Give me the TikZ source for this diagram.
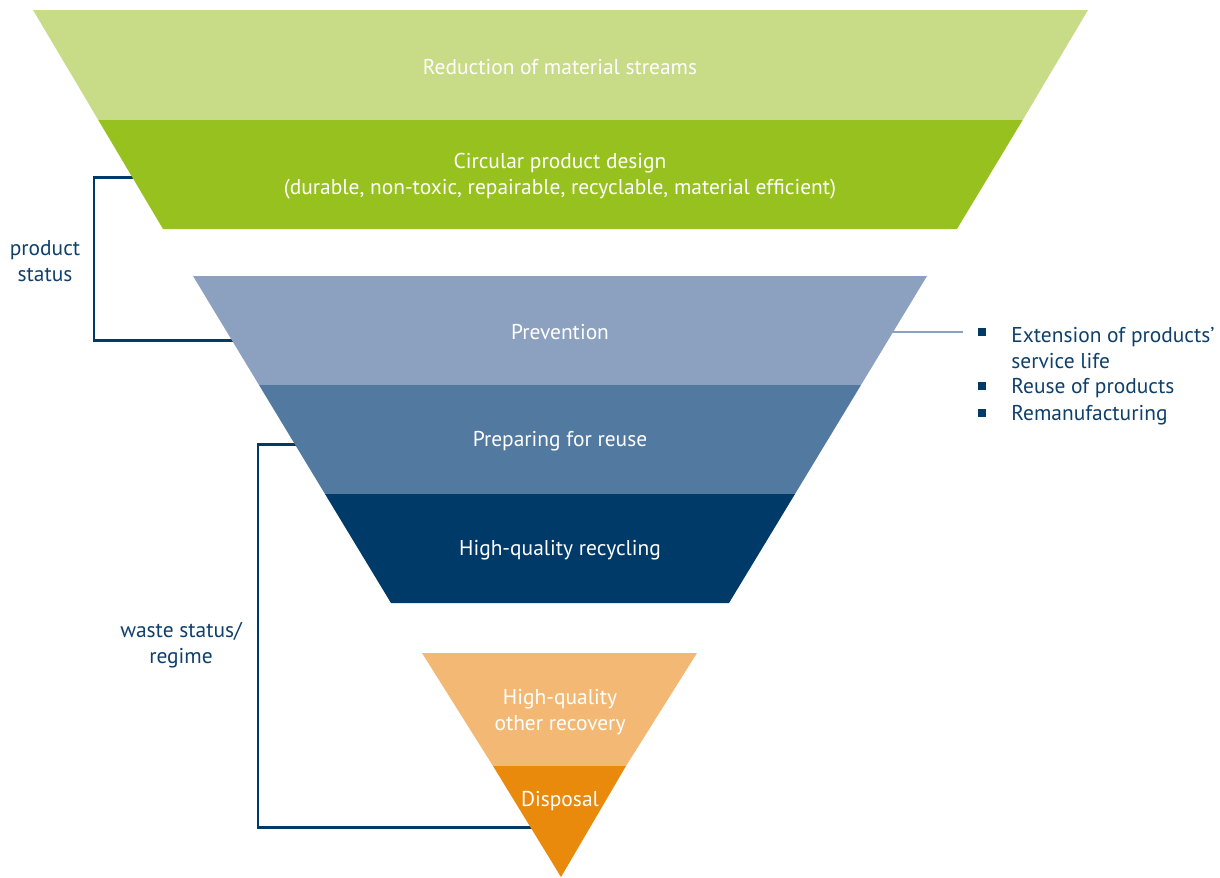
\documentclass[tikz,border=0pt]{standalone}
\usepackage{fontspec}
\setmainfont{PT Sans}
\usetikzlibrary{
	positioning
}
\definecolor{reduceGreen}{HTML}{C8DB86}
\definecolor{designGreen}{HTML}{97C11F}
\definecolor{preventBlue}{HTML}{8BA1BF}
\definecolor{reuseBlue}{HTML}{52799F}
\definecolor{recycleBlue}{HTML}{003A69}
\definecolor{recoverOrange}{HTML}{F3B874}
\definecolor{disposeOrange}{HTML}{EA8A0C}
\definecolor{labelBlue}{HTML}{0F3F6B}

\begin{document}
\begin{tikzpicture}[x=0.02cm,y=-0.02cm,
		band/.style={text=white,font=\fontsize{12.2}{15}\selectfont,align=center},
		side/.style={text=labelBlue,font=\fontsize{12.2}{15}\selectfont,align=center},
		item/.style={text=labelBlue,font=\fontsize{12.2}{15}\selectfont,align=left,anchor=west,inner sep=0pt},
		bullet/.style={fill=recycleBlue,minimum size=4pt,inner sep=0pt},
		bracket/.style={draw=recycleBlue,line width=1.7pt}
	]
		\useasboundingbox (0,0) rectangle (1220,877);

		% brackets, behind the funnel
		\coordinate (ps1) at (240,340);
		\coordinate (ps2) at (94,340);
		\coordinate (ps3) at (94,177);
		\coordinate (ps4) at (140,177);
		\coordinate (ws1) at (300,444);
		\coordinate (ws2) at (258,444);
		\coordinate (ws3) at (258,827);
		\coordinate (ws4) at (535,827);
		\draw[bracket] (ps1) -- (ps2) -- (ps3) -- (ps4);
		\draw[bracket] (ws1) -- (ws2) -- (ws3) -- (ws4);

		% first funnel
		\fill[reduceGreen]   (33,10) -- (1088,10) -- (1022.7,120) -- (98.3,120) -- cycle;
		\fill[designGreen]   (98.3,120) -- (1022.7,120) -- (957,229) -- (163,229) -- cycle;
		% second funnel
		\fill[preventBlue]   (193,276) -- (927,276) -- (861,385) -- (259,385) -- cycle;
		\fill[reuseBlue]     (259,385) -- (861,385) -- (795,494) -- (325,494) -- cycle;
		\fill[recycleBlue]   (325,494) -- (795,494) -- (729,603) -- (391,603) -- cycle;
		% third funnel
		\fill[recoverOrange] (422,653) -- (697,653) -- (626,766) -- (493,766) -- cycle;
		\fill[disposeOrange] (493,766) -- (626,766) -- (561,877) -- cycle;

		\draw
			node[band] (reduce)  at (560,67)  {Reduction of material streams}
			node[band] (design)  at (560,176) {Circular product design\\(durable, non-toxic, repairable, recyclable, material efficient)}
			node[band] (prevent) at (560,332) {Prevention}
			node[band] (reuse)   at (560,441) {Preparing for reuse}
			node[band] (recycle) at (560,550) {High-quality recycling}
			node[band] (recover) at (560,712) {High-quality\\other recovery}
			node[band] (dispose) at (560,801) {Disposal}

			node[side] (product) at (45,261)  {product\\status}
			node[side] (waste)   at (181,645) {waste status/\\regime}
		;

		% list beside prevention
		\coordinate (pv1) at (893,332);
		\coordinate (pv2) at (963,332);
		\draw[draw=preventBlue,line width=1.2pt] (pv1) -- (pv2);
		\node[bullet] (b1) at (982,332) {};
		\node[bullet] (b2) at (982,386) {};
		\node[bullet] (b3) at (982,413) {};
		\node[item] (i1) at (1011,348) {Extension of products’\\service life};
		\node[item] (i2) at (1011,388) {Reuse of products};
		\node[item] (i3) at (1011,415) {Remanufacturing};
	\end{tikzpicture}
\end{document}
